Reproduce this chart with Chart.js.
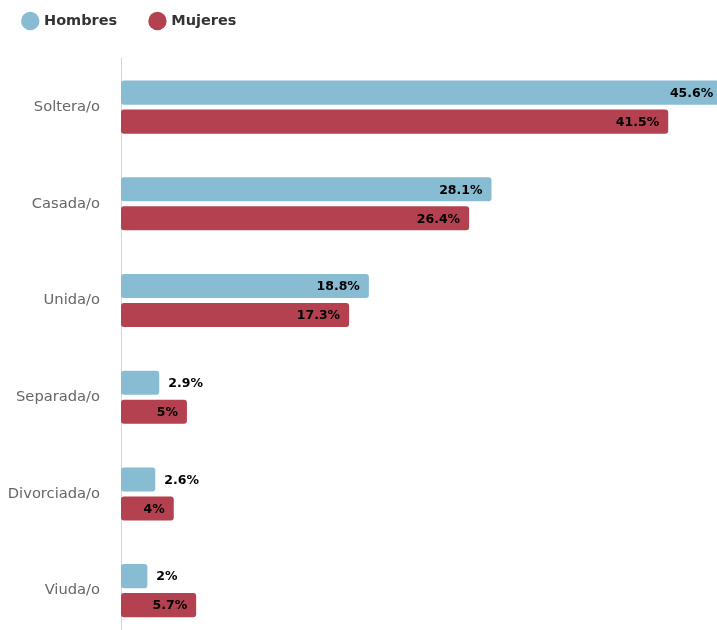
<!DOCTYPE html>
<html>
<head>
<meta charset="utf-8">
<script src="https://cdn.jsdelivr.net/npm/chart.js@4"></script>
<style>
  html, body { margin: 0; padding: 0; background: #fff; overflow: hidden; }
  #wrap { position: relative; width: 717px; height: 630px; overflow: hidden; }
  /* el lienzo se corre hacia arriba/izquierda para ajustar la leyenda */
  #chart { position: absolute; left: -10px; top: -20px; }
</style>
</head>
<body>
<div id="wrap"><canvas id="chart" width="727" height="659"></canvas></div>
<script>
// datos del gráfico
const categories = ["Soltera/o", "Casada/o", "Unida/o", "Separada/o", "Divorciada/o", "Viuda/o"];
const hombres = [45.6, 28.1, 18.8, 2.9, 2.6, 2];
const mujeres = [41.5, 26.4, 17.3, 5, 4, 5.7];
const seriesNames = ["Hombres", "Mujeres"];
const seriesColors = ["#88bcd2", "#b4414f"];

// espacio extra debajo de la leyenda
const legendMargin = {
  id: "legendMargin",
  beforeInit(chart) {
    const fit = chart.legend.fit;
    chart.legend.fit = function () {
      fit.bind(chart.legend)();
      this.height += 20.5;
    };
  },
};

// etiquetas de valor: dentro de la barra si cabe, si no afuera
const valueLabels = {
  id: "valueLabels",
  afterDatasetsDraw(chart) {
    const ctx = chart.ctx;
    ctx.save();
    ctx.font = "bold 12.5px 'DejaVu Sans'";
    ctx.fillStyle = "#000";
    ctx.textBaseline = "middle";
    chart.data.datasets.forEach((ds, i) => {
      const meta = chart.getDatasetMeta(i);
      meta.data.forEach((bar, j) => {
        const text = ds.data[j] + "%";
        const w = ctx.measureText(text).width;
        const barW = bar.x - bar.base;
        if (w + 16 <= barW) {
          ctx.textAlign = "right";
          ctx.fillText(text, bar.x - 9, bar.y + 1);
        } else {
          ctx.textAlign = "left";
          ctx.fillText(text, bar.x + 9, bar.y + 1);
        }
      });
    });
    ctx.restore();
  },
};

const ctx = document.getElementById("chart").getContext("2d");
new Chart(ctx, {
  type: "bar",
  data: {
    labels: categories,
    datasets: [
      {
        label: seriesNames[0],
        data: hombres,
        backgroundColor: seriesColors[0],
        borderWidth: 0,
        borderRadius: 3,
        borderSkipped: false,
      },
      {
        label: seriesNames[1],
        data: mujeres,
        backgroundColor: seriesColors[1],
        borderWidth: 0,
        borderRadius: 3,
        borderSkipped: false,
      },
    ],
  },
  options: {
    indexAxis: "y",
    responsive: false,
    animation: false,
    categoryPercentage: 0.6,
    barPercentage: 0.83,
    layout: { padding: 0 },
    plugins: {
      tooltip: { enabled: false },
      legend: {
        position: "top",
        align: "start",
        labels: {
          usePointStyle: true,
          pointStyle: "circle",
          boxWidth: 13,
          boxHeight: 13,
          padding: 33.75,
          color: "#333",
          font: { family: "'DejaVu Sans'", size: 14.5, weight: "bold" },
        },
      },
    },
    scales: {
      x: {
        display: false,
        min: 0,
        max: 45.2,
      },
      y: {
        grid: { display: false, drawTicks: false },
        border: { display: true, color: "#ccd6eb", width: 1 },
        ticks: {
          color: "#666",
          padding: 21,
          font: { family: "'DejaVu Sans'", size: 14.7 },
        },
        afterFit(scale) {
          scale.width = 131;
          // sin relleno arriba/abajo para que el eje llegue al borde
          scale.paddingTop = 0;
          scale.paddingBottom = 0;
        },
      },
    },
  },
  plugins: [legendMargin, valueLabels],
});
</script>
</body>
</html>
